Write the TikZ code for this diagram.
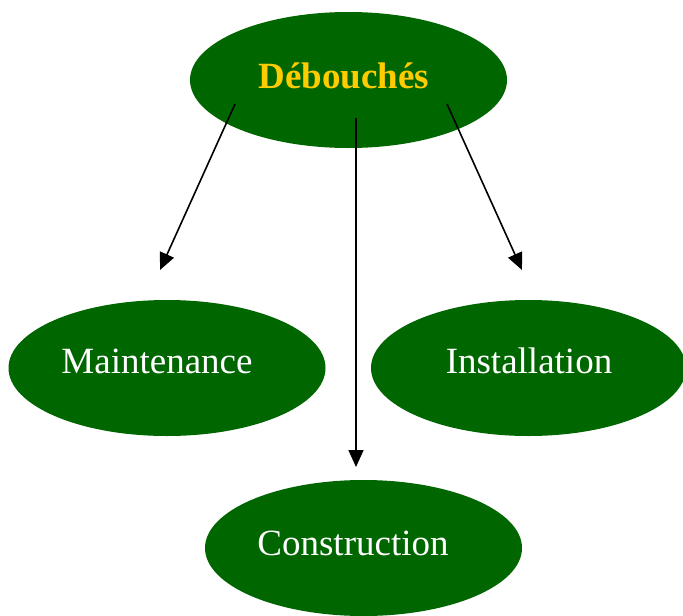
\documentclass[tikz,border=0pt]{standalone}
\usepackage{fontspec}
\setmainfont{Liberation Serif}
\usetikzlibrary{shapes.geometric,arrows.meta}
\definecolor{dgreen}{HTML}{006600}
\definecolor{gold}{HTML}{FFCC00}
\begin{document}
\begin{tikzpicture}[x=1pt,y=-1pt,
  oval/.style={ellipse,fill=dgreen,draw=none,minimum width=317pt,minimum height=136pt,inner sep=0pt},
  lbl/.style={anchor=base,font=\fontsize{37}{40}\selectfont,text=white,inner sep=0pt},
  arr/.style={line width=1.6pt,-{Triangle[length=17pt,width=15pt]}}]
\useasboundingbox (0,0) rectangle (683,616);
\node[oval] (top) at (348.5,80) {};
\node[oval] (maint) at (167,368) {};
\node[oval,minimum width=315pt] (inst) at (528.5,368) {};
\node[oval] (cons) at (363.5,548) {};
\node[lbl,text=gold,font=\fontsize{37}{40}\selectfont\bfseries] (tt) at (344,88) {Débouchés};
\node[lbl] (mt) at (157,373) {Maintenance};
\node[lbl] (it) at (529,373) {Installation};
\node[lbl] (ct) at (353,555) {Construction};
\coordinate (s1) at (235,104);
\coordinate (s2) at (356,118);
\coordinate (s3) at (447,104);
\coordinate (e1) at (160,270);
\coordinate (e2) at (356,467);
\coordinate (e3) at (522,270);
\draw[arr] (s1) -- (e1);
\draw[arr] (s2) -- (e2);
\draw[arr] (s3) -- (e3);
\end{tikzpicture}
\end{document}
